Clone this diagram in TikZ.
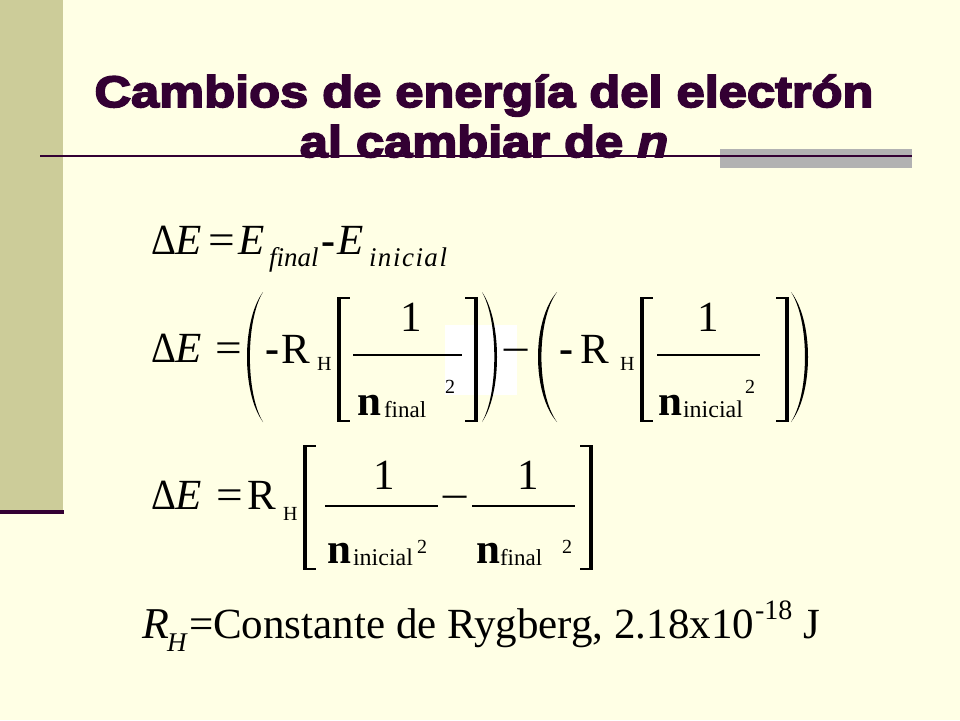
\documentclass[tikz,border=0pt]{standalone}
\usepackage{fontspec}
\usepackage{graphicx}
\setmainfont{Liberation Serif}
\newfontfamily\titlefont{Liberation Sans}[FakeStretch=1.15,BoldFeatures={FakeBold=4},BoldItalicFeatures={FakeBold=4}]
\definecolor{bgc}{HTML}{FFFFE5}
\definecolor{barc}{HTML}{CCCC99}
\definecolor{plum}{HTML}{330033}
\definecolor{greyc}{HTML}{B2B2B2}
\newcommand\fsz[1]{\fontsize{#1}{#1}\selectfont}
\newcommand\hsc[2]{\scalebox{#1}[1]{#2}}
\newcommand\DE{\hsc{0.9}{Δ}\textit{E}}
% delimiters
\newcommand\lbrk[3]{\fill (#1,#2) rectangle (#1+4,#3); \fill (#1,#2) rectangle (#1+13,#2+2); \fill (#1,#3-2) rectangle (#1+13,#3);}
\newcommand\rbrk[3]{\fill (#1-4,#2) rectangle (#1,#3); \fill (#1-13,#2) rectangle (#1,#2+2); \fill (#1-13,#3-2) rectangle (#1,#3);}
% paren: #1 bulge x, #2 end x, #3 top, #4 bottom
\newcommand\paren[4]{\fill (#2,#3) .. controls ({#2-(#2-#1)/0.75},{#3+0.22*(#4-#3)}) and ({#2-(#2-#1)/0.75},{#4-0.22*(#4-#3)}) .. (#2,#4) .. controls ({#2-(#2-#1)*0.82/0.75},{#4-0.22*(#4-#3)}) and ({#2-(#2-#1)*0.82/0.75},{#3+0.22*(#4-#3)}) .. (#2,#3) -- cycle;}
\begin{document}
\begin{tikzpicture}[x=1pt,y=-1pt,
  txt/.style={inner sep=0pt,outer sep=0pt,anchor=base west},
  mth/.style={txt,font={\fsz{43}}},
  rr/.style={txt,font={\fsz{43}}},
  nn/.style={txt,font={\fsz{43}\bfseries}},
  hy/.style={txt,font={\fsz{42}\bfseries}},
  sbs/.style={txt,font={\fsz{24}}},
  sbi/.style={txt,font={\fsz{27}\itshape}},
  sps/.style={txt,font={\fsz{20}}},
  fbar/.style={line width=1.5pt},
  ttl/.style={inner sep=0pt,anchor=base,text=plum,font={\titlefont\bfseries\fsz{44}}},
  btxt/.style={txt,font={\fsz{43}}}]
\useasboundingbox (0,0) rectangle (960,720);
\fill[bgc] (0,0) rectangle (960,720);
\fill[barc] (0,0) rectangle (63,510);
\fill[plum] (0,510) rectangle (64,514);
\fill[greyc] (720,149) rectangle (912,168);
\draw[plum,line width=2.5pt] (40,156) -- (912,156);
% title
\node[ttl] (t1) at (484,107) {Cambios de energía del electrón};
\node[ttl] (t2) at (484,157) {al cambiar de {\itshape n}};
% equation 1
\node[mth] (a1) at (151,254) {\DE};
\node[mth] (a2) at (208,254) {\hsc{1.1}{=}};
\node[mth] (a3) at (238,254) {\textit{E}};
\node[sbi] (a4) at (269,266) {final};
\node[hy] (a5) at (321,254) {-};
\node[mth] (a6) at (337,254) {\textit{E}};
\node[sbi] (a7) at (369,266) {i\kern1.5pt n\kern1.5pt i\kern1.5pt c\kern1.5pt i\kern1.5pt a\kern1.5pt l};
% equation 2
\fill[white] (445,325) rectangle (517,395);
\node[mth] (b1) at (151,362) {\DE};
\node[mth] (b2) at (215,362) {\hsc{1.1}{=}};
\paren{247}{263}{292}{422}
\node[hy] (b3) at (265,362) {-};
\node[rr] (b4) at (281,363) {R};
\node[sps] (b5) at (317,370) {H};
\lbrk{337}{297}{422}
\draw[fbar] (353,355) -- (462,355);
\node[rr,anchor=base] (b6) at (411,331) {1};
\node[nn] (b7) at (357,415) {n};
\node[sbs,font={\fsz{23}}] (b8) at (384,417) {final};
\node[sps] (b9) at (445,393) {2};
\rbrk{478}{297}{422}
\paren{497}{482}{292}{422}
\node[mth] (b10) at (501,364) {\hsc{1.2}{−}};
\paren{538}{557}{292}{422}
\node[hy] (b11) at (559,362) {-};
\node[rr] (b12) at (580,363) {R};
\node[sps] (b13) at (620,370) {H};
\lbrk{640}{297}{422}
\draw[fbar] (657,355) -- (760,355);
\node[rr,anchor=base] (b14) at (708,331) {1};
\node[nn] (b15) at (658,415) {n};
\node[sbs] (b16) at (683,417) {inicial};
\node[sps] (b17) at (745,393) {2};
\rbrk{789}{297}{422}
\paren{808}{791}{292}{422}
% equation 3
\node[mth] (c1) at (151,509) {\DE};
\node[mth] (c2) at (216,509) {\hsc{1.1}{=}};
\node[rr] (c3) at (247,509) {R};
\node[sps] (c4) at (283,520) {H};
\lbrk{303}{445}{570}
\draw[fbar] (325,506) -- (438,506);
\node[rr,anchor=base] (c5) at (384,489) {1};
\node[nn] (c6) at (327,563) {n};
\node[sbs] (c7) at (353,565) {inicial};
\node[sps] (c8) at (417,553) {2};
\node[mth] (c9) at (440,511) {\hsc{1.2}{−}};
\draw[fbar] (472,506) -- (575,506);
\node[rr,anchor=base] (c10) at (528,489) {1};
\node[nn] (c11) at (476,563) {n};
\node[sbs,font={\fsz{23}}] (c12) at (500,565) {final};
\node[sps] (c13) at (562,553) {2};
\rbrk{593}{445}{570}
% constant
\node[btxt,font={\fsz{44}\itshape}] (d1) at (142,638) {R};
\node[txt,font={\fsz{27}\itshape}] (d2) at (167,651) {H};
\node[btxt] (d3) at (189,638) {=Constante de Rygberg, 2.18x10};
\node[txt,font={\fsz{28}},anchor=base west] (d4) at ([xshift=1pt,yshift=19pt]d3.base east) {-18};
\node[btxt] (d5) at ([xshift=11pt,yshift=-19pt]d4.base east) {J};
\end{tikzpicture}
\end{document}
